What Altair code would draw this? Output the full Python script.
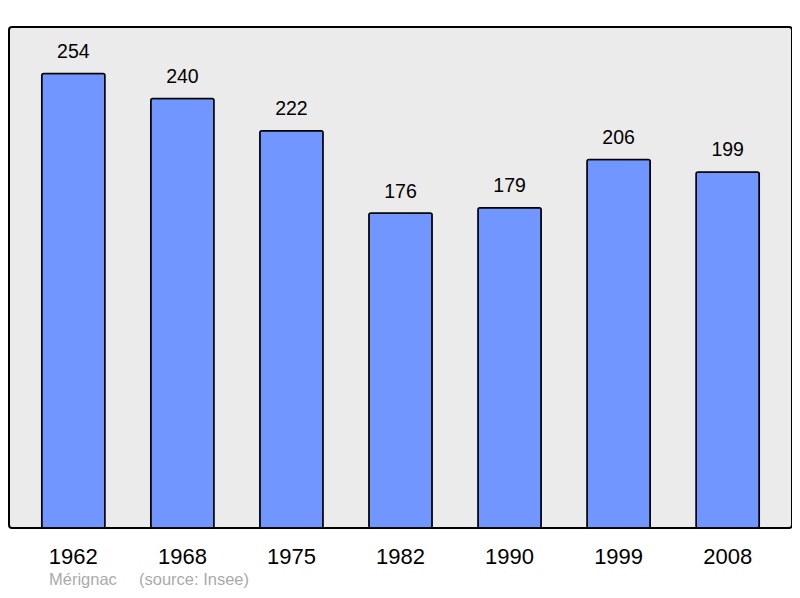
import altair as alt
import pandas as pd

years = ["1962", "1968", "1975", "1982", "1990", "1999", "2008"]
population = [254, 240, 222, 176, 179, 206, 199]
footer_place = "Mérignac"
footer_source = "(source: Insee)"

df = pd.DataFrame({"annee": years, "pop": population})

x_enc = alt.X(
    "annee:N",
    sort=None,
    title=None,
    scale=alt.Scale(paddingInner=0.42, paddingOuter=0.30),
    axis=alt.Axis(
        labelAngle=0, labelFontSize=22, labelColor="#000000", labelFont="Liberation Sans",
        labelBaseline="alphabetic", ticks=False, domain=False, labelPadding=35,
    ),
)
y_enc = alt.Y(
    "pop:Q",
    title=None,
    scale=alt.Scale(domain=[0, 280], nice=False),
    axis=None,
)

bars = alt.Chart(df).mark_bar(
    color="#7196ff", stroke="#000000", strokeWidth=1.5, cornerRadius=2
).encode(x=x_enc, y=y_enc)

labels = alt.Chart(df).mark_text(
    fontSize=19.5, font="Liberation Sans", color="#000000", baseline="alphabetic", dy=-15.5
).encode(x=x_enc, y=y_enc, text="pop:Q")

# pied de page : lieu et source
footer = alt.Chart(
    pd.DataFrame({"t": [footer_place, footer_source], "px": [40, 130]})
).mark_text(
    fontSize=16.5, font="Liberation Sans", color="#aaaaaa", align="left", baseline="alphabetic"
).encode(x=alt.X("px:Q", scale=None), y=alt.value(558), text="t:N")

chart = alt.layer(bars, labels, footer).properties(
    width=783,
    height=501,
    autosize=alt.AutoSizeParams(type="none"),
    padding={"left": 1, "top": 19, "right": 0, "bottom": 62},
    background="#ffffff",
).configure_view(
    fill="#ebebeb", stroke="#000000", strokeWidth=2, cornerRadius=3
).configure_axis(grid=False)

chart.save("out.html", embed_options={"renderer": "svg", "actions": False})
